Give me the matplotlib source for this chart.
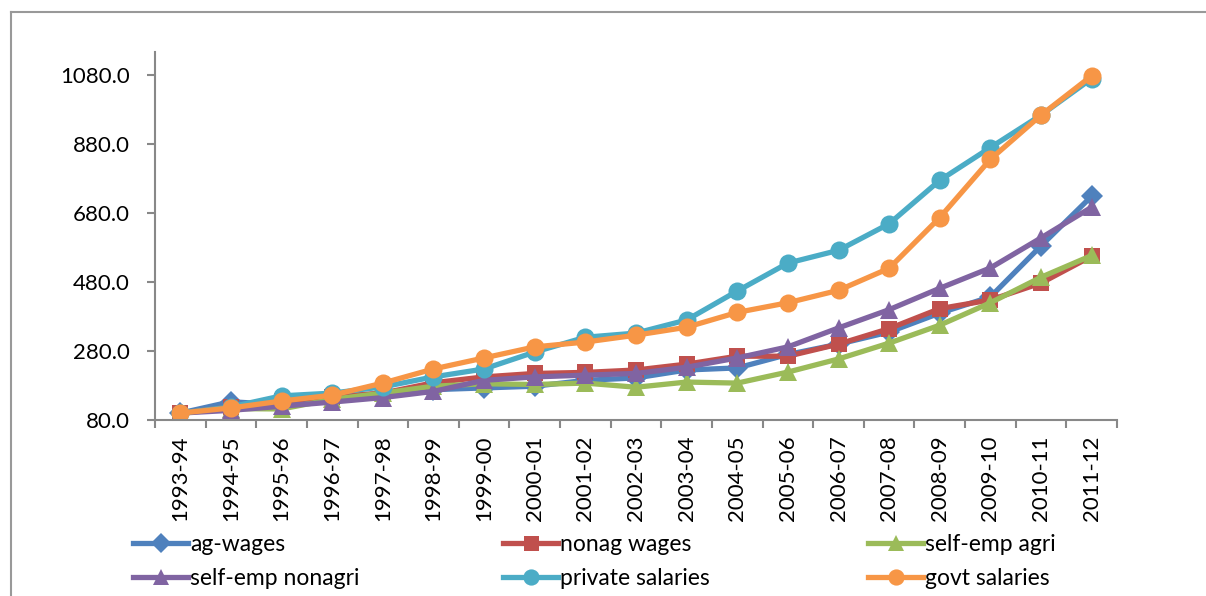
import matplotlib
matplotlib.use("Agg")
import matplotlib.pyplot as plt
from matplotlib.lines import Line2D
import numpy as np

plt.rcParams["font.family"] = ["Lato", "DejaVu Sans"]

years = ["1993-94", "1994-95", "1995-96", "1996-97", "1997-98", "1998-99",
         "1999-00", "2000-01", "2001-02", "2002-03", "2003-04", "2004-05",
         "2005-06", "2006-07", "2007-08", "2008-09", "2009-10", "2010-11",
         "2011-12"]

ag_wages = [100, 133, 124, 145, 157, 168, 173, 178, 195, 202, 225, 231,
            270, 300, 335, 390, 437, 585, 729]
nonag_wages = [100, 118, 135, 148, 158, 188, 205, 215, 218, 225, 242, 265,
               265, 300, 345, 403, 428, 477, 555]
self_emp_agri = [100, 113, 112, 140, 158, 178, 185, 183, 187, 175, 190, 187,
                 219, 257, 303, 355, 420, 494, 557]
self_emp_nonagri = [100, 108, 120, 132, 145, 163, 195, 205, 210, 215, 233, 260,
                    292, 347, 400, 462, 521, 608, 697]
private_salaries = [100, 118, 150, 158, 176, 205, 228, 277, 320, 332, 370, 454,
                    535, 572, 649, 775, 870, 964, 1070]
govt_salaries = [100, 115, 135, 152, 187, 228, 260, 292, 306, 326, 349, 392,
                 420, 456, 520, 667, 836, 964, 1078]

yticks = [80, 280, 480, 680, 880, 1080]

series = [
    ("ag-wages", ag_wages, "#4F81BD", "D", 11),
    ("nonag wages", nonag_wages, "#C0504D", "s", 12),
    ("self-emp agri", self_emp_agri, "#9BBB59", "^", 13),
    ("self-emp nonagri", self_emp_nonagri, "#8064A2", "^", 13),
    ("private salaries", private_salaries, "#4BACC6", "o", 13),
    ("govt salaries", govt_salaries, "#F79646", "o", 13),
]

fig = plt.figure(figsize=(12.06, 5.96), dpi=100)
ax = fig.add_axes([155 / 1206, 1 - 420 / 596, (1117 - 155) / 1206, (420 - 52) / 596])

x = np.arange(len(years))
handles = []
for name, vals, color, mk, ms in series:
    h, = ax.plot(x, vals, color=color, linewidth=3.8, marker=mk, markersize=ms,
                 markeredgewidth=0, label=name, solid_joinstyle="round")
    handles.append(h)

ax.set_xlim(-0.5, len(years) - 0.5)
ax.set_ylim(80, 1147)
ax.set_yticks(yticks)
ax.set_yticklabels([f"{v:.1f}" for v in yticks], fontsize=16)
ax.set_xticks(x)
ax.set_xticklabels(years, rotation=90, fontsize=16)
ax.set_xticks(np.arange(len(years) + 1) - 0.5, minor=True)
ax.tick_params(axis="x", which="major", length=0, pad=11)
ax.tick_params(axis="x", which="minor", length=6, width=1.5, color="#888888", direction="out")
ax.tick_params(axis="y", length=6, width=1.5, color="#888888", direction="out", pad=12)

for side in ["top", "right"]:
    ax.spines[side].set_visible(False)
for side in ["left", "bottom"]:
    ax.spines[side].set_color("#888888")
    ax.spines[side].set_linewidth(1.5)

# legend laid out in three columns like the original
col_x = [133 / 1206, 503 / 1206, 868 / 1206]
for i, cx in enumerate(col_x):
    fig.legend([handles[i], handles[i + 3]],
               [series[i][0], series[i + 3][0]],
               loc="upper left", bbox_to_anchor=(cx, 1 - 534 / 596),
               frameon=False, fontsize=16.5, handlelength=2.4,
               handletextpad=0.1, labelspacing=0.55, borderpad=0,
               borderaxespad=0, markerscale=0.9)

# outer chart border (cropped at right and bottom)
fig.add_artist(Line2D([11 / 1206, 11 / 1206], [0, 1 - 12 / 596],
                      transform=fig.transFigure, color="#999999", linewidth=1.5))
fig.add_artist(Line2D([11 / 1206, 1], [1 - 12 / 596, 1 - 12 / 596],
                      transform=fig.transFigure, color="#999999", linewidth=1.5))

fig.savefig("out.png", dpi=100)
